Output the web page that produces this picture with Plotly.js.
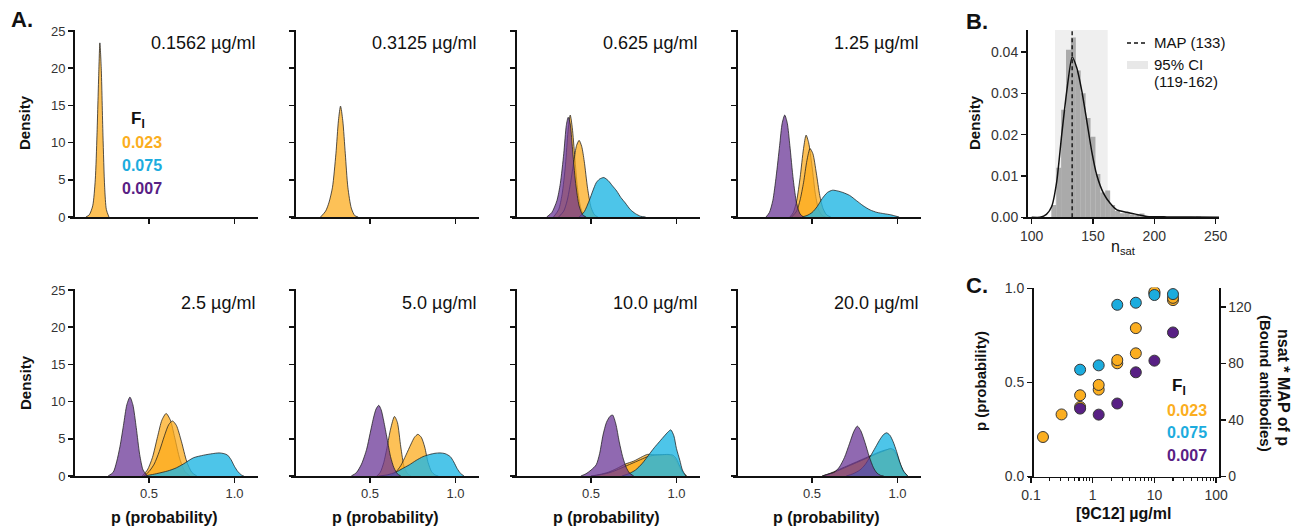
<!DOCTYPE html>
<html><head><meta charset="utf-8">
<script src="https://cdn.plot.ly/plotly-3.0.1.min.js"></script>
<style>html,body{margin:0;padding:0;background:#fff}#plot{width:1304px;height:528px}</style>
</head><body><div id="plot"></div>
<script>
// ---------- DATA ----------
const concentrations = [0.1562, 0.3125, 0.625, 1.25, 2.5, 5, 10, 20];
const concLabels = ['0.1562 µg/ml','0.3125 µg/ml','0.625 µg/ml','1.25 µg/ml','2.5 µg/ml','5.0 µg/ml','10.0 µg/ml','20.0 µg/ml'];
const fiLabels = ['0.023','0.075','0.007'];

// Panel A posterior densities of p
const a1_orange_x = [0.13,0.15,0.17,0.185,0.195,0.205,0.212,0.22,0.23,0.24,0.25,0.265];
const a1_orange_y = [0,0.3,1.5,5,11,19,23.4,20,11,4,1,0];

const a2_orange_x = [0.21,0.24,0.26,0.28,0.30,0.315,0.327,0.34,0.355,0.37,0.39,0.41,0.43];
const a2_orange_y = [0,0.8,2,4,8.5,13,14.9,13,8.5,4,1.2,0.2,0];

const a3_orangeA_x = [0.28,0.31,0.33,0.35,0.365,0.378,0.39,0.405,0.42,0.44,0.46,0.48];
const a3_orangeA_y = [0,1,3,7,11.5,13.7,12,8,4,1.2,0.2,0];
const a3_orangeB_x = [0.31,0.34,0.36,0.38,0.40,0.415,0.43,0.445,0.46,0.48,0.50,0.52,0.54];
const a3_orangeB_y = [0,0.8,2.2,4.6,7.6,9.6,10.3,9.5,7.5,3.8,1.3,0.3,0];
const a3_blue_x = [0.43,0.46,0.49,0.51,0.53,0.55,0.575,0.60,0.625,0.65,0.675,0.70,0.73,0.76,0.79,0.82];
const a3_blue_y = [0,0.7,2.25,3.5,4.6,5.1,5.3,4.9,4.2,3.5,2.6,1.9,1.0,0.45,0.1,0];
const a3_purple_x = [0.24,0.27,0.30,0.32,0.34,0.355,0.366,0.378,0.39,0.41,0.43,0.45,0.47];
const a3_purple_y = [0,0.6,2.2,4.5,8.5,12.3,13.4,12.5,9.5,4.5,1.5,0.3,0];

const a4_orangeA_x = [0.37,0.39,0.41,0.43,0.45,0.465,0.48,0.50,0.52,0.54,0.56,0.58];
const a4_orangeA_y = [0,0.6,2.2,5.3,9.2,11,10,6.8,3,0.9,0.2,0];
const a4_orangeB_x = [0.38,0.41,0.43,0.45,0.47,0.488,0.505,0.525,0.545,0.565,0.585,0.61];
const a4_orangeB_y = [0,0.8,2.3,4.6,7.6,9.2,8.5,5.9,2.9,1.1,0.3,0];
const a4_blue_x = [0.44,0.47,0.50,0.53,0.56,0.59,0.62,0.65,0.68,0.72,0.76,0.80,0.84,0.88,0.92,0.96,0.99,1.01];
const a4_blue_y = [0,0.2,0.6,1.4,2.5,3.3,3.6,3.5,3.3,2.9,2.2,1.5,0.95,0.62,0.45,0.3,0.12,0];
const a4_purple_x = [0.23,0.25,0.27,0.29,0.31,0.325,0.34,0.355,0.37,0.39,0.41,0.43,0.45];
const a4_purple_y = [0,0.6,2.2,5.5,9.6,12.6,13.7,12.6,9.6,5,1.8,0.4,0];

const a5_orangeA_x = [0.46,0.49,0.52,0.55,0.575,0.60,0.625,0.65,0.68,0.71,0.74];
const a5_orangeA_y = [0,0.8,2.5,5.3,7.5,8.4,7.5,5.2,2.3,0.6,0];
const a5_orangeB_x = [0.47,0.50,0.53,0.56,0.59,0.615,0.637,0.66,0.69,0.72,0.75,0.78];
const a5_orangeB_y = [0,0.6,1.6,3.3,5.4,6.9,7.4,6.8,4.6,2,0.5,0];
const a5_blue_x = [0.47,0.52,0.57,0.62,0.66,0.70,0.76,0.82,0.87,0.91,0.94,0.96,0.98,1.0,1.02,1.04,1.055];
const a5_blue_y = [0,0.2,0.45,0.75,1.1,1.6,2.45,2.8,3.0,3.1,3.0,2.8,2.2,1.3,0.6,0.15,0];
const a5_purple_x = [0.26,0.29,0.31,0.33,0.35,0.37,0.388,0.405,0.425,0.445,0.465,0.49];
const a5_purple_y = [0,0.5,1.9,4,6.8,9.6,10.6,9.6,6.5,2.9,0.8,0];

const a6_orangeA_x = [0.54,0.56,0.58,0.60,0.62,0.643,0.66,0.68,0.70,0.72,0.74];
const a6_orangeA_y = [0,0.5,1.8,3.9,6.3,8.0,7.2,3.9,1.2,0.3,0];
const a6_orangeB_x = [0.62,0.65,0.68,0.71,0.74,0.76,0.78,0.80,0.82,0.84,0.86,0.88,0.90];
const a6_orangeB_y = [0,0.5,1.4,2.8,4.3,5.2,5.6,5.2,3.9,1.8,0.6,0.15,0];
const a6_blue_x = [0.55,0.60,0.65,0.69,0.73,0.77,0.81,0.85,0.88,0.91,0.94,0.97,0.99,1.01,1.03,1.05];
const a6_blue_y = [0,0.15,0.5,1.0,1.5,2.1,2.6,2.9,3.05,3.1,3.0,2.6,1.9,1.0,0.35,0];
const a6_purple_x = [0.39,0.42,0.45,0.48,0.50,0.52,0.535,0.551,0.565,0.58,0.60,0.62,0.64,0.66,0.68];
const a6_purple_y = [0,0.45,1.6,3.6,5.7,7.8,9,9.5,8.9,7.4,5,2.6,1.1,0.3,0];

const a7_orangeA_x = [0.50,0.55,0.60,0.65,0.70,0.75,0.80,0.83,0.87,0.91,0.95,0.98,1.0,1.02,1.04,1.06];
const a7_orangeA_y = [0,0.2,0.5,1.0,1.6,2.0,2.6,2.9,2.85,2.85,2.85,2.6,2.0,1.1,0.3,0];
const a7_orangeB_x = [0.50,0.55,0.60,0.65,0.70,0.75,0.80,0.83,0.87,0.91,0.95,0.98,1.0,1.02,1.04,1.06];
const a7_orangeB_y = [0,0.15,0.4,0.8,1.3,1.8,2.3,2.6,2.8,2.85,2.9,2.8,2.3,1.3,0.4,0];
const a7_blue_x = [0.68,0.72,0.76,0.80,0.84,0.87,0.90,0.93,0.95,0.967,0.985,1.0,1.02,1.035,1.055];
const a7_blue_y = [0,0.3,0.8,1.7,2.9,3.8,4.6,5.4,5.9,6.2,5.4,3.7,2.1,0.8,0];
const a7_purple_x = [0.44,0.47,0.50,0.53,0.55,0.57,0.59,0.61,0.626,0.645,0.665,0.685,0.705,0.725,0.75];
const a7_purple_y = [0,0.3,0.8,1.5,3.0,5.5,7.2,8.0,8.2,7.0,4.6,2.6,1.2,0.4,0];

const a8_orangeA_x = [0.56,0.60,0.65,0.70,0.75,0.80,0.85,0.89,0.93,0.96,0.98,1.0,1.02,1.04,1.06];
const a8_orangeA_y = [0,0.3,0.8,1.3,1.8,2.3,2.8,3.2,3.5,3.6,3.3,2.5,1.3,0.4,0];
const a8_orangeB_x = [0.56,0.60,0.65,0.70,0.75,0.80,0.85,0.89,0.93,0.96,0.98,1.0,1.02,1.04,1.06];
const a8_orangeB_y = [0,0.25,0.7,1.2,1.7,2.2,2.7,3.1,3.45,3.7,3.5,2.7,1.4,0.45,0];
const a8_blue_x = [0.70,0.74,0.78,0.81,0.84,0.87,0.90,0.92,0.937,0.955,0.975,0.995,1.015,1.035,1.06];
const a8_blue_y = [0,0.3,0.8,1.5,2.6,3.8,5.0,5.6,5.8,5.5,4.6,3.3,1.8,0.7,0];
const a8_purple_x = [0.56,0.60,0.63,0.66,0.69,0.72,0.745,0.765,0.785,0.81,0.835,0.86,0.88,0.90,0.92];
const a8_purple_y = [0,0.3,0.5,1.2,2.5,4.4,6.0,6.7,6.1,4.5,2.6,1.1,0.4,0.1,0];

// Panel B: n_sat posterior
const nsatBinCenters = [118,122,126,130,134,138,142,146,150,154,158,162,166,170,174,178,182,186,190,194,198,208,236];
const nsatBinDensity = [0.003,0.012,0.026,0.0405,0.0435,0.0355,0.030,0.024,0.0195,0.0105,0.006,0.0065,0.003,0.0015,0.001,0.0011,0.0007,0.0006,0.0009,0.0002,0.0001,0.0002,0.0002];
const nsatKdeX = [100,106.8,112,116.3,120.4,124.5,128.6,133,136.8,140.9,145,149,153,158.6,164,169.5,177.7,185.8,194,210,230,253];
const nsatKdeY = [0,0,0.0007,0.0026,0.0086,0.020,0.0305,0.0388,0.0361,0.0305,0.0232,0.0159,0.0103,0.0058,0.0034,0.0018,0.0012,0.0007,0.0002,0.0001,0.0001,0];
const nsatMAP = 133;
const nsatCI = [119, 162];

// Panel C: MAP of p vs concentration
const pMapOrangeA = [0.21,0.33,0.37,0.462,0.602,0.655,0.975,0.938];
const pMapOrangeB = [null,null,0.432,0.487,0.619,0.789,0.982,0.95];
const pMapBlue    = [null,null,0.568,0.591,0.913,0.924,0.965,0.970];
const pMapPurple  = [null,null,0.361,0.329,0.388,0.554,0.616,0.766];

// ---------- STYLE ----------
const W = 1304, H = 528;
const fx = px => px / W;
const fy = py => 1 - py / H;
const FONT = 'Liberation Sans, Arial, sans-serif';
const ORANGE = 'rgb(251,174,32)', BLUE = 'rgb(28,172,222)', PURPLE = 'rgb(88,32,132)';
const FILL = {orange:'rgba(252,172,28,0.74)', blue:'rgba(32,182,228,0.8)', purple:'rgba(105,52,150,0.74)'};

const panels = [
  [[a1_orange_x,a1_orange_y,'orange']],
  [[a2_orange_x,a2_orange_y,'orange']],
  [[a3_orangeA_x,a3_orangeA_y,'orange'],[a3_orangeB_x,a3_orangeB_y,'orange'],[a3_blue_x,a3_blue_y,'blue'],[a3_purple_x,a3_purple_y,'purple']],
  [[a4_orangeA_x,a4_orangeA_y,'orange'],[a4_orangeB_x,a4_orangeB_y,'orange'],[a4_blue_x,a4_blue_y,'blue'],[a4_purple_x,a4_purple_y,'purple']],
  [[a5_orangeA_x,a5_orangeA_y,'orange'],[a5_orangeB_x,a5_orangeB_y,'orange'],[a5_blue_x,a5_blue_y,'blue'],[a5_purple_x,a5_purple_y,'purple']],
  [[a6_orangeA_x,a6_orangeA_y,'orange'],[a6_orangeB_x,a6_orangeB_y,'orange'],[a6_blue_x,a6_blue_y,'blue'],[a6_purple_x,a6_purple_y,'purple']],
  [[a7_orangeA_x,a7_orangeA_y,'orange'],[a7_orangeB_x,a7_orangeB_y,'orange'],[a7_blue_x,a7_blue_y,'blue'],[a7_purple_x,a7_purple_y,'purple']],
  [[a8_orangeA_x,a8_orangeA_y,'orange'],[a8_orangeB_x,a8_orangeB_y,'orange'],[a8_blue_x,a8_blue_y,'blue'],[a8_purple_x,a8_purple_y,'purple']]
];

const axName = k => (k === 1 ? '' : String(k));
const traces = [];
const layout = {
  width: W, height: H, margin: {l:0,r:0,t:0,b:0},
  paper_bgcolor: '#fff', plot_bgcolor: 'rgba(0,0,0,0)',
  showlegend: false, font: {family: FONT, color: '#222'},
  annotations: [], shapes: []
};
const baseAxis = {
  showline: true, linecolor: '#111', linewidth: 1.5, ticks: 'outside', ticklen: 5, tickwidth: 1.5,
  tickcolor: '#111', showgrid: false, zeroline: false, fixedrange: true,
  tickfont: {family: FONT, size: 13, color: '#333'}
};
const bold = (size, color) => ({family: FONT, size: size, color: color || '#111', weight: 'bold'});
const ann = (text, x, y, opts) => Object.assign({text, x: fx(x), y: fy(y), xref:'paper', yref:'paper', showarrow:false,
  xanchor:'center', yanchor:'middle', font:{family:FONT, size:15, color:'#111'}}, opts || {});

const aStarts = [70, 291, 512, 733];
const aWidth = 188;
panels.forEach((curves, i) => {
  const k = i + 1, row = i < 4 ? 0 : 1, col = i % 4, s = aStarts[col];
  const yDom = row === 0 ? [fy(217), fy(29.5)] : [fy(476), fy(288.5)];
  layout['xaxis' + axName(k)] = Object.assign({}, baseAxis, {
    domain: [fx(s), fx(s + aWidth)], range: [0.037, 1.138], anchor: 'y' + axName(k),
    tickvals: [0.5, 1.0], ticktext: ['0.5', '1.0'], showticklabels: row === 1
  });
  layout['yaxis' + axName(k)] = Object.assign({}, baseAxis, {
    domain: yDom, range: [0, 25.2], anchor: 'free', position: fx(s + 3),
    tickvals: [0, 5, 10, 15, 20, 25], showticklabels: col === 0
  });
  curves.forEach(([xs, ys, c]) => {
    traces.push({x: xs, y: ys, type: 'scatter', mode: 'lines', fill: 'tozeroy', fillcolor: FILL[c],
      line: {color: 'rgba(30,30,30,0.85)', width: 0.9, shape: 'spline', smoothing: 0.7},
      xaxis: 'x' + axName(k), yaxis: 'y' + axName(k), hoverinfo: 'skip'});
  });
  layout.annotations.push(ann(concLabels[i], s + aWidth - 1, row === 0 ? 43 : 303,
    {xanchor: 'right', font: {family: FONT, size: 18, color: '#111'}}));
  if (row === 1) layout.annotations.push(ann('p (probability)', s + 94, 517, {font: bold(16)}));
});
layout.annotations.push(ann('Density', 25, 123, {textangle: -90, font: bold(15)}));
layout.annotations.push(ann('Density', 25, 383, {textangle: -90, font: bold(15)}));
// Fi legend in panel A
layout.annotations.push(ann('F<sub>I</sub>', 138, 120, {font: bold(17)}));
[ORANGE, BLUE, PURPLE].forEach((c, j) => layout.annotations.push(ann(fiLabels[j], 142, 143 + j * 22.5, {font: bold(16, c)})));

// Panel letters
layout.annotations.push(ann('A.', 22, 20, {font: bold(22)}));
layout.annotations.push(ann('B.', 977, 22, {font: bold(22)}));
layout.annotations.push(ann('C.', 977, 285, {font: bold(22)}));

// ---------- Panel B ----------
layout.xaxis9 = Object.assign({}, baseAxis, {domain: [fx(1023), fx(1219)], range: [92.9, 252.8], anchor: 'y9',
  tickvals: [100, 150, 200, 250], tickfont: {family: FONT, size: 14, color: '#333'}});
layout.yaxis9 = Object.assign({}, baseAxis, {domain: [fy(217.3), fy(30)], range: [0, 0.0453], anchor: 'free', position: fx(1026),
  tickvals: [0, 0.01, 0.02, 0.03, 0.04], tickformat: '.2f', tickfont: {family: FONT, size: 14, color: '#333'}});
layout.shapes.push({type: 'rect', xref: 'x9', yref: 'y9', x0: nsatCI[0], x1: nsatCI[1], y0: 0, y1: 0.0453,
  fillcolor: '#efefef', line: {width: 0}, layer: 'below'});
traces.push({x: nsatBinCenters, y: nsatBinDensity, type: 'bar', width: 4, marker: {color: 'rgba(150,150,150,0.78)', line: {width: 0}},
  xaxis: 'x9', yaxis: 'y9', hoverinfo: 'skip'});
traces.push({x: nsatKdeX, y: nsatKdeY, type: 'scatter', mode: 'lines', line: {color: '#111', width: 1.5, shape: 'spline', smoothing: 0.6},
  xaxis: 'x9', yaxis: 'y9', hoverinfo: 'skip'});
traces.push({x: [nsatMAP, nsatMAP], y: [0, 0.0453], type: 'scatter', mode: 'lines', line: {color: '#111', width: 1.4, dash: '4px,3px'},
  xaxis: 'x9', yaxis: 'y9', hoverinfo: 'skip'});
layout.annotations.push(ann('Density', 975, 123, {textangle: -90, font: bold(15)}));
layout.annotations.push(ann('n<sub>sat</sub>', 1123, 247, {font: {family: FONT, size: 16, color: '#111'}}));
// legend B
layout.shapes.push({type: 'line', xref: 'paper', yref: 'paper', x0: fx(1127), x1: fx(1148), y0: fy(43), y1: fy(43),
  line: {color: '#111', width: 1.4, dash: '4px,3px'}});
layout.shapes.push({type: 'rect', xref: 'paper', yref: 'paper', x0: fx(1127), x1: fx(1148), y0: fy(69), y1: fy(61),
  fillcolor: '#e8e8e8', line: {width: 0}});
layout.annotations.push(ann('MAP (' + nsatMAP + ')', 1152, 43, {xanchor: 'left'}));
layout.annotations.push(ann('95% CI', 1152, 65, {xanchor: 'left'}));
layout.annotations.push(ann('(' + nsatCI[0] + '-' + nsatCI[1] + ')', 1152, 82, {xanchor: 'left'}));

// ---------- Panel C ----------
const minorVals = [];
[0.1, 1, 10].forEach(d => { for (let m = 2; m <= 9; m++) minorVals.push(+(m * d).toPrecision(3)); });
layout.xaxis10 = Object.assign({}, baseAxis, {domain: [fx(1028), fx(1219)], type: 'log', range: [-1.049, 2.047], anchor: 'y10',
  tickvals: [0.1, 1, 10, 100], ticktext: ['0.1', '1', '10', '100'], tickfont: {family: FONT, size: 14, color: '#333'},
  minor: {tickvals: minorVals, ticks: 'outside', ticklen: 3, tickwidth: 1.2, tickcolor: '#111', showgrid: false}});
layout.yaxis10 = Object.assign({}, baseAxis, {domain: [fy(476.5), fy(287.5)], range: [0, 1.005], anchor: 'free', position: fx(1032),
  tickvals: [0, 0.5, 1.0], ticktext: ['0.0', '0.5', '1.0'], tickfont: {family: FONT, size: 14, color: '#333'}});
layout.yaxis11 = Object.assign({}, baseAxis, {overlaying: 'y10', side: 'right', anchor: 'x10', range: [0, 133 * 1.005],
  tickvals: [0, 40, 80, 120], tickfont: {family: FONT, size: 14, color: '#333'}});
traces.push({x: [1], y: [-10], type: 'scatter', mode: 'markers', marker: {opacity: 0}, xaxis: 'x10', yaxis: 'y11', hoverinfo: 'skip'});
const markerSeries = [[pMapOrangeA, ORANGE], [pMapOrangeB, ORANGE], [pMapBlue, BLUE], [pMapPurple, PURPLE]];
markerSeries.forEach(([vals, c]) => traces.push({x: concentrations, y: vals, type: 'scatter', mode: 'markers',
  marker: {size: 11, color: c, line: {color: 'rgb(55,55,55)', width: 1}}, xaxis: 'x10', yaxis: 'y10', hoverinfo: 'skip'}));
layout.annotations.push(ann('p (probability)', 980, 381, {textangle: -90, font: bold(15)}));
layout.annotations.push(ann('[9C12] µg/ml', 1123, 513, {font: bold(16)}));
layout.annotations.push(ann('nsat * MAP of p', 1284, 387, {textangle: 90, font: bold(16)}));
layout.annotations.push(ann('(Bound antibodies)', 1266, 383, {textangle: 90, font: bold(15)}));
layout.annotations.push(ann('F<sub>I</sub>', 1179, 387, {font: bold(17)}));
[ORANGE, BLUE, PURPLE].forEach((c, j) => layout.annotations.push(ann(fiLabels[j], 1187, 410 + j * 22.5, {font: bold(16, c)})));

Plotly.newPlot('plot', traces, layout, {displayModeBar: false, staticPlot: true});
</script></body></html>
